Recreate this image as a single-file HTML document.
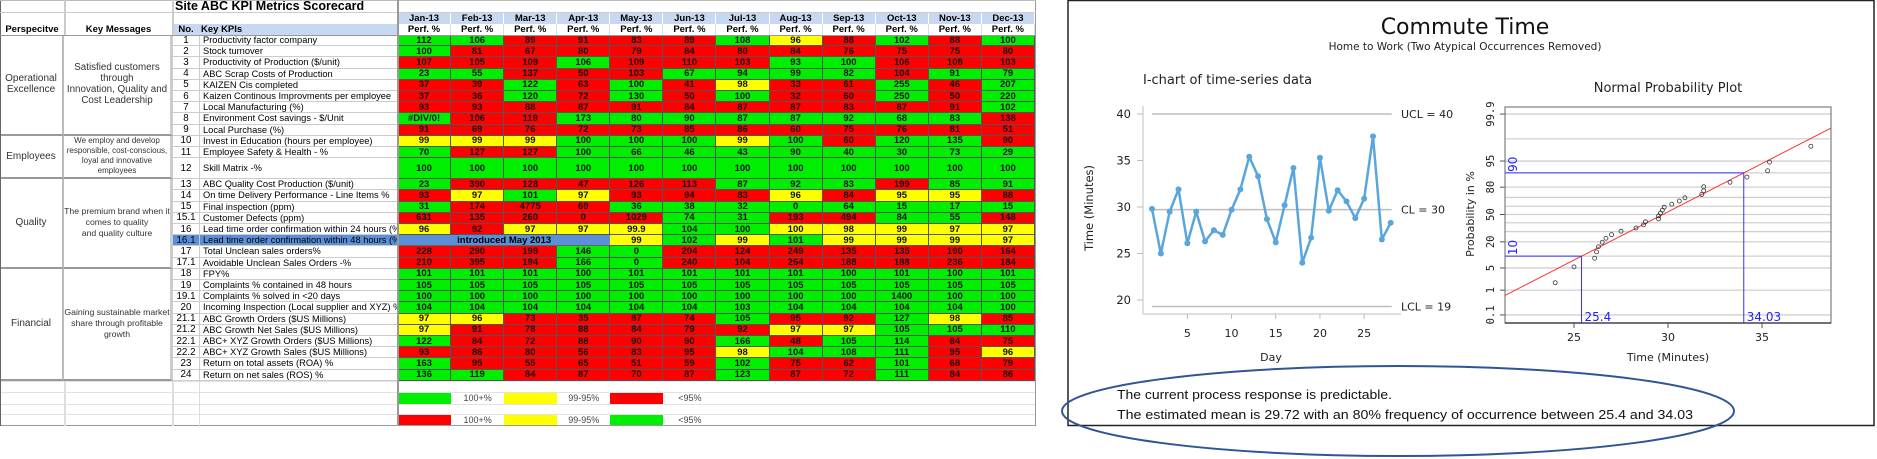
<!DOCTYPE html>
<html><head><meta charset="utf-8">
<style>
html,body{margin:0;padding:0;background:#fff;}
#root{position:relative;width:1877px;height:459px;overflow:hidden;background:#fff;font-family:"Liberation Sans",sans-serif;}
.c{position:absolute;box-sizing:border-box;white-space:nowrap;overflow:hidden;}
.v{display:flex;align-items:center;justify-content:center;text-align:center;}
</style></head>
<body>
<div id="root">
<div id="sheet" style="position:absolute;left:0;top:0;width:1036px;height:426px;"></div>
<svg id="chart" width="1877" height="459" style="position:absolute;left:0;top:0;" xmlns="http://www.w3.org/2000/svg"></svg>
</div>
<script>
// ===== Scorecard data =====
const monthNames=['Jan-13','Feb-13','Mar-13','Apr-13','May-13','Jun-13','Jul-13','Aug-13','Sep-13','Oct-13','Nov-13','Dec-13'];
const kpiRows=[
['1','Productivity factor company','112G 106G 89R 91R 83R 89R 108G 96Y 88R 102G 88R 100G'],
['2','Stock turnover','100G 81R 67R 80R 79R 84R 80R 84R 76R 75R 75R 80R'],
['3','Productivity of Production ($/unit)','107R 105R 109R 106G 109R 110R 103R 93G 100G 106R 108R 103R'],
['4','ABC Scrap Costs of Production','23G 55G 137R 50R 103R 67G 94G 99G 82G 104R 91G 79G'],
['5','KAIZEN Cis completed','37R 39R 122G 63R 100G 41R 98Y 33R 61R 255G 46R 207G'],
['6','Kaizen Continous Improvments per employee','37R 36R 120G 72R 130G 50R 100G 32R 60R 250G 50R 220G'],
['7','Local Manufacturing (%)','93R 93R 88R 87R 91R 84R 87R 87R 83R 87R 91R 102G'],
['8','Environment Cost savings - $/Unit','#DIV/0!G 106R 119R 173G 80G 90G 87G 87G 92G 68G 83G 138R'],
['9','Local Purchase (%)','91R 69R 76R 72R 73R 85R 86R 60R 75R 76R 81R 51R'],
['10','Invest in Education (hours per employee)','99Y 99Y 99Y 100G 100G 100G 99Y 100G 60R 120G 135G 90R'],
['11','Employee Safety & Health - %','70G 127R 127R 100G 66G 46G 43G 90G 40G 30G 73G 29G'],
['12','Skill Matrix -%','100G 100G 100G 100G 100G 100G 100G 100G 100G 100G 100G 100G'],
['13','ABC Quality Cost Production ($/unit)','23G 390R 128R 47R 126R 113R 87G 92G 83G 199R 85G 91G'],
['14','On time Delivery Performance - Line Items %','93R 97Y 101G 97Y 93R 94R 83R 96Y 84R 95Y 95Y 88R'],
['15','Final inspection (ppm)','31G 174R 4775R 69R 36G 38G 32G 0G 64G 15G 17G 15G'],
['15.1','Customer Defects (ppm)','631R 135R 260R 0R 1029R 74G 31G 193R 494R 84G 55G 148R'],
['16','Lead time order confirmation within 24 hours (%)','96Y 92R 97Y 97Y 99.9Y 104G 100G 100Y 98Y 99Y 97Y 97Y'],
['16.1','Lead time order confirmation within 48 hours (%)','-B -B -B -B 99Y 102G 99Y 101G 99Y 99Y 99Y 97Y'],
['17','Total Unclean sales orders%','228R 290R 199R 146G 0G 204R 124R 249R 135R 135R 190R 164R'],
['17.1','Avoidable Unclean Sales Orders -%','210R 395R 194R 166G 0G 240R 104R 264R 188R 188R 236R 184R'],
['18','FPY%','101G 101G 101G 100G 101G 101G 101G 101G 100G 101G 100G 101G'],
['19','Complaints % contained in 48 hours','105G 105G 105G 105G 105G 105G 105G 105G 105G 105G 105G 105G'],
['19.1','Complaints % solved in <20 days','100G 100G 100G 100G 100G 100G 100G 100G 100G 1400G 100G 100G'],
['20','Incoming Inspection (Local supplier and XYZ) %','104G 104G 104G 104G 104G 104G 103G 104G 104G 104G 104G 100G'],
['21.1','ABC Growth Orders ($US Millions)','97Y 96Y 73R 35R 87R 74R 105G 95R 92R 127G 98Y 85R'],
['21.2','ABC Growth Net Sales ($US Millions)','97Y 91R 78R 88R 84R 79R 92R 97Y 97Y 105G 105G 110G'],
['22.1','ABC+ XYZ Growth Orders ($US Millions)','122G 84R 72R 88R 90R 90R 166G 48R 105G 114G 84R 75R'],
['22.2','ABC+ XYZ Growth Sales ($US Millions)','93R 86R 80R 56R 83R 95R 98Y 104G 108G 111G 95R 96Y'],
['23','Return on total assets (ROA) %','163G 95R 55R 65R 51R 59R 102G 75R 62R 101G 68R 79R'],
['24','Return on net sales (ROS) %','136G 119G 84R 87R 70R 87R 123G 87R 72R 111G 84R 86R']
];
const groups=[
 {name:'Operational<br>Excellence',msg:'Satisfied customers<br>through<br>Innovation, Quality and<br>Cost Leadership',from:0,to:8,fs:9.8,lh:11},
 {name:'Employees',msg:'We employ and develop<br>responsible, cost-conscious,<br>loyal and innovative<br>employees',from:9,to:11,fs:8,lh:10},
 {name:'Quality',msg:'The premium brand when it<br>comes to quality<br>and quality culture',from:12,to:19,fs:8.7,lh:11},
 {name:'Financial',msg:'Gaining sustainable market<br>share through profitable<br>growth',from:20,to:29,fs:8.7,lh:11}
];
const COL={G:'#00ee00',R:'#ff0000',Y:'#ffff00',B:'#5b8fd8'};
const sheet=document.getElementById('sheet');
function cell(x,y,w,h,html,style,name,inter){
 const d=document.createElement('div');
 d.className='c v';
 d.style.cssText='left:'+x+'px;top:'+y+'px;width:'+w+'px;height:'+h+'px;'+(style||'');
 d.innerHTML=html;
 
 
 sheet.appendChild(d);
 return d;
}
const MX=398, MW=53.08, Y0=35, RH=11.2;
cell(173,0,400,12,'Site ABC KPI Metrics Scorecard','font-weight:bold;font-size:12.5px;justify-content:flex-start;padding-left:2px;','sheet-title',false);
for(let m=0;m<12;m++){
 const x=MX+m*MW;
 cell(x,12,MW,11.5,monthNames[m],'background:#c6d9f1;font-weight:bold;font-size:9.5px;border-right:1px solid #fff;border-top:1px solid #aaa;','month-header',false);
 cell(x,23.5,MW,11.5,'Perf. %','font-weight:bold;font-size:9.5px;border-right:1px solid #ddd;','perf-header',false);
}
cell(0,23.5,64,11.5,'Perspecitve','font-weight:bold;font-size:9.5px;','perspective-header',false);
cell(64,23.5,109,11.5,'Key Messages','font-weight:bold;font-size:9.5px;','key-messages-header',false);
cell(173,23.5,26,11.5,'No.','background:#c6d9f1;font-weight:bold;font-size:9.5px;','no-header',false);
cell(199,23.5,199,11.5,'Key KPIs','background:#c6d9f1;font-weight:bold;font-size:9.5px;justify-content:flex-start;padding-left:2px;','kpis-header',false);
const tops=[];let yy=Y0;
kpiRows.forEach((r,i)=>{tops.push(yy);yy+=(r[0]==='12'?21:RH);});
const tableBottom=yy;
kpiRows.forEach((r,i)=>{
 const y=tops[i],h=(r[0]==='12'?21:RH);
 const hl=r[0]==='16.1';
 cell(173,y,26,h,r[0],'font-size:9.8px;border-bottom:1px solid #ccc;'+(hl?'background:#5b8fd8;':''),'kpi-number',false);
 cell(199,y,199,h,r[1].replace(/&/g,'&amp;').replace(/</g,'&lt;'),'font-size:9.3px;justify-content:flex-start;padding-left:3px;border-bottom:1px solid #ccc;border-left:1px solid #ccc;'+(hl?'background:#5b8fd8;':''),'kpi-name',false);
 const vals=r[2].split(' ');
 vals.forEach((v,m)=>{
  const c=v.slice(-1),t=v.slice(0,-1);
  if(c==='B'){ if(m===0){cell(MX,y,MW*4,h,'introduced May 2013','background:#5b8fd8;font-weight:bold;font-size:9.5px;border-bottom:1px solid #666;','introduced-note',false);} return;}
  cell(MX+m*MW,y,MW,h,t,'background:'+COL[c]+';font-weight:bold;font-size:9.5px;color:#111;border-right:1px solid #555;border-bottom:1px solid #555;','kpi-value-cell',false);
 });
});
groups.forEach(g=>{
 const y=tops[g.from],h=tops[g.to]+(kpiRows[g.to][0]==='12'?21:RH)-y;
 cell(0,y,64,h,g.name,'font-size:10px;line-height:11px;color:#333;border-bottom:2px solid #999;border-right:2px solid #bbb;','perspective-group',false);
 cell(64,y,109,h,'<div>'+g.msg+'</div>','font-size:'+g.fs+'px;line-height:'+g.lh+'px;color:#333;border-bottom:2px solid #999;border-right:3px solid #ccc;','key-message',false);
});
const legendRows=[[392,['G','100+%','Y','99-95%','R','<95%']],[414,['R','100+%','Y','99-95%','G','<95%']]];
legendRows.forEach(lr=>{
 lr[1].forEach((v,m)=>{
  if(COL[v]) cell(MX+m*MW,lr[0],MW,11.5,'','background:'+COL[v]+';','legend-swatch',false);
  else cell(MX+m*MW,lr[0],MW,11.5,v.replace('<','&lt;'),'font-size:9px;color:#444;','legend-label',false);
 });
});
[tableBottom,392,404,414,425].forEach(y=>{
 const d=document.createElement('div');d.className='c';
 d.style.cssText='left:0;top:'+y+'px;width:1036px;height:1px;background:'+(y===425?'#999':'#e2e2e2')+';';
 
 
 sheet.appendChild(d);
});
[[0,0,1,426,'#666'],[1035,0,1,426,'#999'],[0,0,1036,1,'#bbb'],[0,35,1036,1,'#999'],[0,12,1036,1,'#ccc'],[64,0,2,35,'#ccc'],[172,0,2,35,'#ccc'],[397,0,2,426,'#999'],[64,tableBottom,2,45,'#ddd'],[172,tableBottom,2,45,'#ddd'],[199,tableBottom,1,45,'#ddd']].forEach(a=>{
 const d=document.createElement('div');d.className='c';
 d.style.cssText='left:'+a[0]+'px;top:'+a[1]+'px;width:'+a[2]+'px;height:'+a[3]+'px;background:'+a[4]+';';
 
 
 sheet.appendChild(d);
});
</script>
<script>
// ===== Chart data =====
const days=[1,2,3,4,5,6,7,8,9,10,11,12,13,14,15,16,17,18,19,20,21,22,23,24,25,26,27,28];
const commuteMinutes=[29.8,25.0,29.5,31.9,26.1,29.5,26.3,27.5,27.0,29.7,31.9,35.4,33.3,28.7,26.2,30.2,34.2,24.0,26.7,35.3,29.6,31.8,30.6,28.8,30.9,37.6,26.5,28.3];
const controlLimits=[40,29.72,19.3];
const controlLabels=['UCL = 40','CL = 30','LCL = 19'];
const iYTicks=[20,25,30,35,40];
const iXTicks=[5,10,15,20,25];
const probGrid=[0.1,1,5,10,20,30,40,50,60,70,80,90,95,99,99.9];
const probTicks=[0.1,1,5,20,50,80,95,99.9];
const probXTicks=[25,30,35];
const interval=[25.4,34.03];
const intervalProbs=[10,90];
const estMean=29.72;

const NS='http://www.w3.org/2000/svg';
const svg=document.getElementById('chart');
function el(tag,attrs,name,text){
 const e=document.createElementNS(NS,tag);
 for(const k in attrs) e.setAttribute(k,attrs[k]);
 
 
 if(text!==undefined) e.textContent=text;
 svg.appendChild(e);return e;
}
function invNorm(p){
 const a=[-39.69683028665376,220.9460984245205,-275.9285104469687,138.357751867269,-30.66479806614716,2.506628277459239];
 const b=[-54.47609879822406,161.5858368580409,-155.6989798598866,66.80131188771972,-13.28068155288572];
 const c=[-0.007784894002430293,-0.3223964580411365,-2.400758277161838,-2.549732539343734,4.374664141464968,2.938163982698783];
 const d=[0.007784695709041462,0.3224671290700398,2.445134137142996,3.754408661907416];
 let q,r;
 if(p<0.02425){q=Math.sqrt(-2*Math.log(p));return (((((c[0]*q+c[1])*q+c[2])*q+c[3])*q+c[4])*q+c[5])/((((d[0]*q+d[1])*q+d[2])*q+d[3])*q+1);}
 if(p>1-0.02425){q=Math.sqrt(-2*Math.log(1-p));return -(((((c[0]*q+c[1])*q+c[2])*q+c[3])*q+c[4])*q+c[5])/((((d[0]*q+d[1])*q+d[2])*q+d[3])*q+1);}
 q=p-0.5;r=q*q;return (((((a[0]*r+a[1])*r+a[2])*r+a[3])*r+a[4])*r+a[5])*q/(((((b[0]*r+b[1])*r+b[2])*r+b[3])*r+b[4])*r+1);
}
el('rect',{x:1068,y:0.5,width:806,height:425,fill:'none',stroke:'#222','stroke-width':1.5},'panel-border');
el('text',{x:1465,y:34,'text-anchor':'middle','font-size':22,'font-family':'DejaVu Sans, sans-serif',fill:'#111'},'main-title','Commute Time');
el('text',{x:1465,y:50,'text-anchor':'middle','font-size':10.5,'font-family':'DejaVu Sans, sans-serif',fill:'#222'},'subtitle','Home to Work (Two Atypical Occurrences Removed)');
const ix=d=>1152+(d-1)*8.84, iy=v=>114+(40-v)*9.3;
el('text',{x:1143,y:84,'font-size':13,'font-family':'DejaVu Sans, sans-serif',fill:'#222'},'ichart-title','I-chart of time-series data');
el('line',{x1:1143,y1:106,x2:1143,y2:314,stroke:'#ccc','stroke-width':1.2},'ichart-y-axis');
el('line',{x1:1143,y1:314,x2:1401,y2:314,stroke:'#ccc','stroke-width':1.2},'ichart-x-axis');
iYTicks.forEach(t=>{
 el('line',{x1:1137,y1:iy(t),x2:1143,y2:iy(t),stroke:'#bbb'},'ichart-y-tick');
 el('text',{x:1131,y:iy(t)+4,'text-anchor':'end','font-size':11.5,'font-family':'DejaVu Sans, sans-serif',fill:'#222'},'ichart-y-tick-label',String(t));
});
iXTicks.forEach(t=>{
 el('line',{x1:ix(t),y1:314,x2:ix(t),y2:319,stroke:'#bbb'},'ichart-x-tick');
 el('text',{x:ix(t),y:337,'text-anchor':'middle','font-size':11,'font-family':'DejaVu Sans, sans-serif',fill:'#222'},'ichart-x-tick-label',String(t));
});
el('text',{x:1271,y:361,'text-anchor':'middle','font-size':11,'font-family':'DejaVu Sans, sans-serif',fill:'#222'},'ichart-x-axis-title','Day');
el('text',{x:0,y:0,transform:'translate(1093,208) rotate(-90)','text-anchor':'middle','font-size':11.5,'font-family':'DejaVu Sans, sans-serif',fill:'#222'},'ichart-y-axis-title','Time (Minutes)');
controlLimits.forEach((v,i)=>{
 el('line',{x1:ix(days[0]),y1:iy(v),x2:ix(days[days.length-1])+1,y2:iy(v),stroke:'#bdbdbd','stroke-width':1.5},'control-limit-line');
 el('text',{x:1401,y:iy(v)+4,'font-size':11,'font-family':'DejaVu Sans, sans-serif',fill:'#222'},'control-limit-label',controlLabels[i]);
});
el('polyline',{points:days.map((d,i)=>ix(d)+','+iy(commuteMinutes[i])).join(' '),fill:'none',stroke:'#5aa5dc','stroke-width':2.5,'stroke-linejoin':'round'},'ichart-series-line');
days.forEach((d,i)=>{el('circle',{cx:ix(d),cy:iy(commuteMinutes[i]),r:3,fill:'#5aa5dc'},'ichart-point');});
const px=v=>1574+(v-25)*18.8, pz=z=>214.5-z*32.5, pp=p=>pz(invNorm(p/100));
el('text',{x:1668,y:92,'text-anchor':'middle','font-size':13,'font-family':'DejaVu Sans, sans-serif',fill:'#222'},'prob-title','Normal Probability Plot');
probGrid.forEach(p=>{el('line',{x1:1505,y1:pp(p),x2:1831,y2:pp(p),stroke:'#d0d0d0','stroke-width':1.3},'prob-grid-line');});
probTicks.forEach(p=>{
 el('line',{x1:1500,y1:pp(p),x2:1505,y2:pp(p),stroke:'#555'},'prob-y-tick');
 el('text',{x:0,y:0,transform:'translate(1494,'+pp(p)+') rotate(-90)','text-anchor':'middle','font-size':10.5,'font-family':'DejaVu Sans Mono, monospace',fill:'#222'},'prob-y-tick-label',String(p));
});
el('text',{x:0,y:0,transform:'translate(1474,214) rotate(-90)','text-anchor':'middle','font-size':11,'font-family':'DejaVu Sans, sans-serif',fill:'#222'},'prob-y-axis-title','Probability in %');
probXTicks.forEach(t=>{
 el('line',{x1:px(t),y1:323,x2:px(t),y2:328,stroke:'#555'},'prob-x-tick');
 el('text',{x:px(t),y:341,'text-anchor':'middle','font-size':11,'font-family':'DejaVu Sans, sans-serif',fill:'#222'},'prob-x-tick-label',String(t));
});
el('text',{x:1668,y:361,'text-anchor':'middle','font-size':11,'font-family':'DejaVu Sans, sans-serif',fill:'#222'},'prob-x-axis-title','Time (Minutes)');
const sd=(interval[1]-interval[0])/(2*invNorm(intervalProbs[1]/100));
const vL=(1505-1574)/18.8+25, vR=(1831-1574)/18.8+25;
el('line',{x1:1505,y1:pz((vL-estMean)/sd),x2:1831,y2:pz((vR-estMean)/sd),stroke:'#ff3333','stroke-width':1},'prob-fit-line');
interval.forEach((v,i)=>{
 const y=pp(intervalProbs[i]);
 el('line',{x1:1505,y1:y,x2:px(v),y2:y,stroke:'#3333ff','stroke-width':1},'interval-horizontal');
 el('line',{x1:px(v),y1:y,x2:px(v),y2:323,stroke:'#3333ff','stroke-width':1},'interval-vertical');
 el('text',{x:px(v)+3,y:321,'font-size':12,'font-family':'DejaVu Sans, sans-serif',fill:'#2222ff'},'interval-value-label',String(v));
 el('text',{x:0,y:0,transform:'translate(1517,'+(y-1)+') rotate(-90)','font-size':12,'font-family':'DejaVu Sans, sans-serif',fill:'#2222ff'},'interval-prob-label',String(intervalProbs[i]));
});
const sorted=commuteMinutes.slice().sort((a,b)=>a-b);
sorted.forEach((v,i)=>{el('circle',{cx:px(v),cy:pp((i+0.5)/sorted.length*100),r:2,fill:'none',stroke:'#333','stroke-width':0.8},'prob-point');});
el('rect',{x:1505,y:107,width:326,height:216,fill:'none',stroke:'#666','stroke-width':1},'prob-frame');
el('line',{x1:1505,y1:323,x2:1831,y2:323,stroke:'#444','stroke-width':1.5},'prob-x-axis');
el('text',{x:1117,y:399,'font-size':12.5,'font-family':'Liberation Sans, sans-serif',fill:'#111',textLength:275,lengthAdjust:'spacingAndGlyphs'},'summary-line-1','The current process response is predictable.');
el('text',{x:1117,y:419,'font-size':12.5,'font-family':'Liberation Sans, sans-serif',fill:'#111',textLength:576,lengthAdjust:'spacingAndGlyphs'},'summary-line-2','The estimated mean is 29.72 with an 80% frequency of occurrence between 25.4 and 34.03');
el('ellipse',{cx:1398,cy:411,rx:336,ry:45,fill:'none',stroke:'#2f5597','stroke-width':2},'highlight-ellipse');
</script>
</body></html>
